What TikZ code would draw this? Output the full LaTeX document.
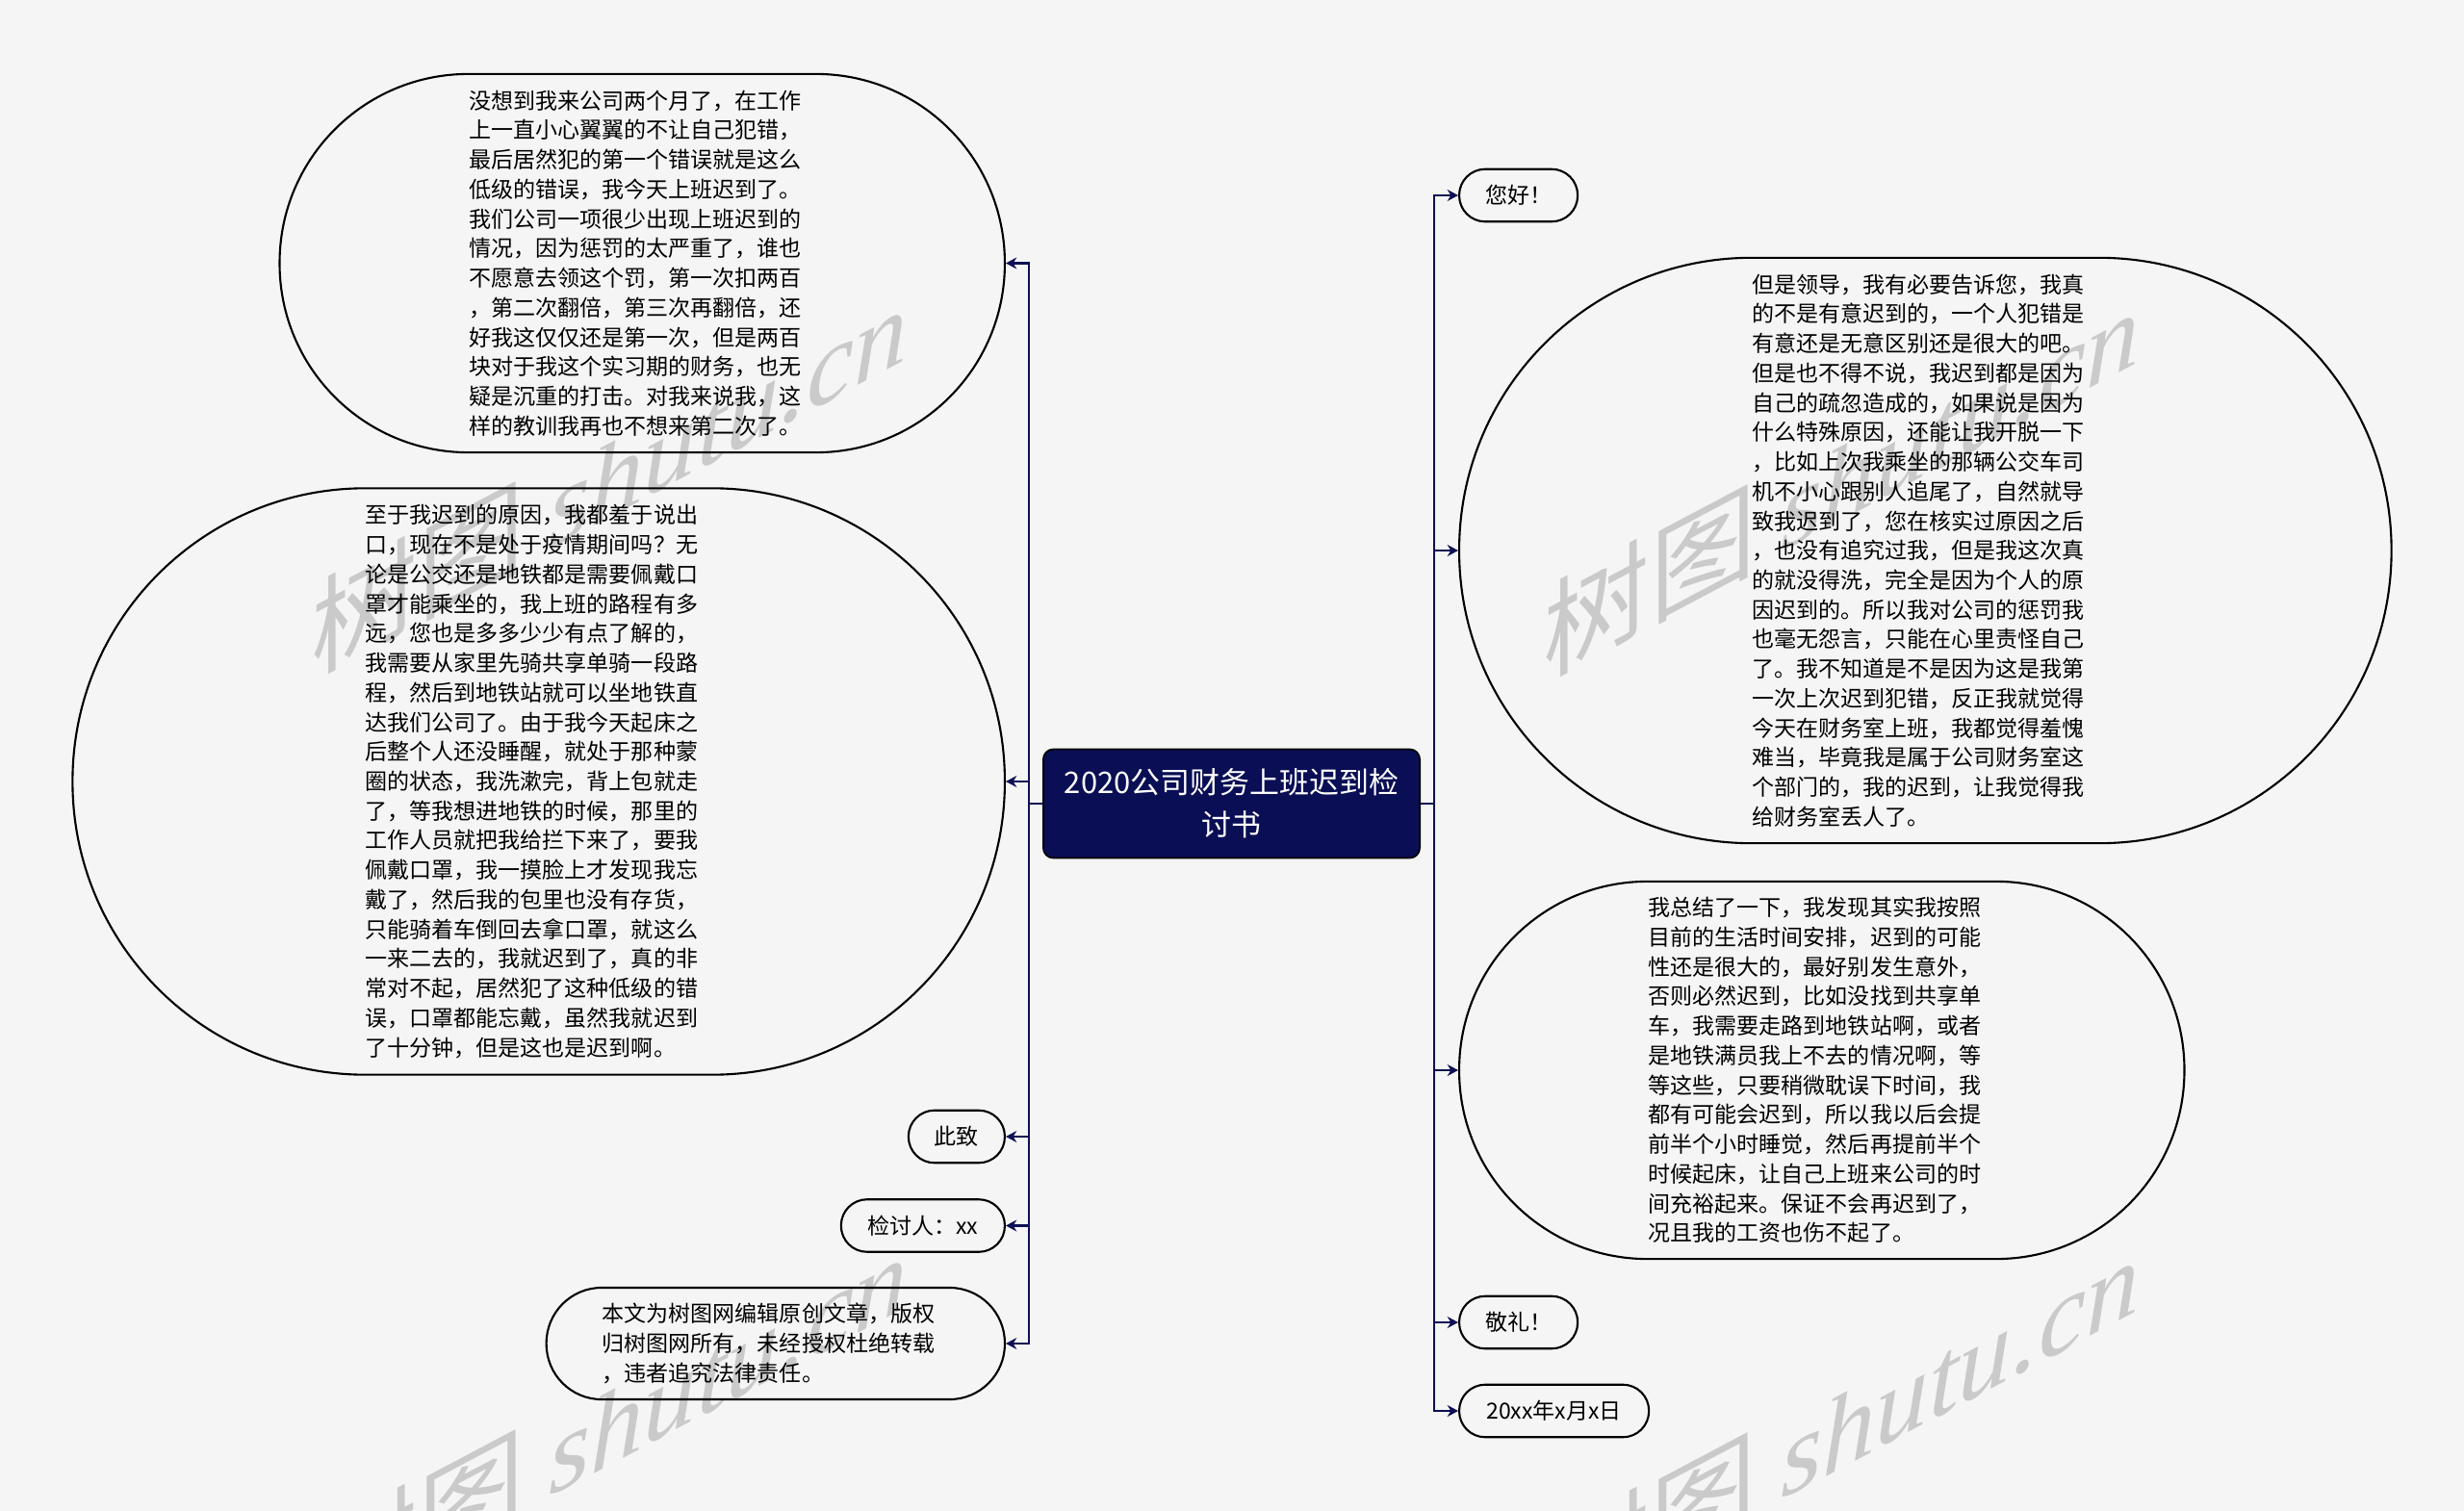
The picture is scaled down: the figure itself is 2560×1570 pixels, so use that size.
\documentclass[tikz,border=0pt]{standalone}
\usepackage{fontspec}
\setmainfont{Noto Sans CJK SC}
\newfontfamily\wmserif{Liberation Serif}
\usepackage{tikz}
\usetikzlibrary{arrows.meta}
\definecolor{linknavy}{RGB}{12,16,84}
\definecolor{titlenavy}{RGB}{10,14,85}
\definecolor{pagegray}{RGB}{245,245,245}
\definecolor{markgray}{RGB}{202,202,202}
\newcommand\bubblesize{\fontsize{6.55pt}{8.74pt}\selectfont}

\begin{document}
\begin{tikzpicture}[x=0.01cm,y=-0.01cm,
    capsule/.style n args={3}{rectangle,draw=black,line width=0.6pt,inner sep=0pt,
      minimum width=#1,minimum height=#2,rounded corners=#3,font=\bubblesize},
    bubble/.style={text width=3.6cm,align=left},
    link/.style={draw=linknavy,line width=0.7pt,-{Stealth[length=3.2pt,width=3.4pt]}},
    watermark/.style={anchor=base east,yslant=0.53,text=markgray,
      font=\fontsize{31.5pt}{31.5pt}\selectfont}]
          \useasboundingbox (0,0) rectangle (2560,1570);
          \clip (0,0) rectangle (2560,1570);
          \fill[pagegray] (0,0) rectangle (2560,1570);
          \foreach \wx/\wy in {955/367,2235/370,955/1352,2235/1355}
            \node[watermark] at (\wx,\wy) {树图 {\wmserif\itshape shutu.cn}};
          % root
          \node[rectangle,rounded corners=3pt,draw=black,line width=0.5pt,fill=titlenavy,
            text=white,minimum width=3.91cm,minimum height=1.13cm,inner sep=0pt,
            text width=3.6cm,align=center,font=\fontsize{8.8pt}{12.5pt}\selectfont]
            (title) at (1279.5,835) {2020公司财务上班迟到检\\讨书};
          % left side
          \node[capsule={7.53cm}{3.93cm}{1.96cm},bubble,anchor=east] (firstlate) at (1045,273.5)
            {没想到我来公司两个月了，在工作\\
             上一直小心翼翼的不让自己犯错，\\
             最后居然犯的第一个错误就是这么\\
             低级的错误，我今天上班迟到了。\\
             我们公司一项很少出现上班迟到的\\
             情况，因为惩罚的太严重了，谁也\\
             不愿意去领这个罚，第一次扣两百\\
             ，第二次翻倍，第三次再翻倍，还\\
             好我这仅仅还是第一次，但是两百\\
             块对于我这个实习期的财务，也无\\
             疑是沉重的打击。对我来说我，这\\
             样的教训我再也不想来第二次了。};
          \node[capsule={9.68cm}{6.09cm}{3.04cm},bubble,anchor=east] (reason) at (1045,812)
            {至于我迟到的原因，我都羞于说出\\
             口，现在不是处于疫情期间吗？无\\
             论是公交还是地铁都是需要佩戴口\\
             罩才能乘坐的，我上班的路程有多\\
             远，您也是多多少少有点了解的，\\
             我需要从家里先骑共享单骑一段路\\
             程，然后到地铁站就可以坐地铁直\\
             达我们公司了。由于我今天起床之\\
             后整个人还没睡醒，就处于那种蒙\\
             圈的状态，我洗漱完，背上包就走\\
             了，等我想进地铁的时候，那里的\\
             工作人员就把我给拦下来了，要我\\
             佩戴口罩，我一摸脸上才发现我忘\\
             戴了，然后我的包里也没有存货，\\
             只能骑着车倒回去拿口罩，就这么\\
             一来二去的，我就迟到了，真的非\\
             常对不起，居然犯了这种低级的错\\
             误，口罩都能忘戴，虽然我就迟到\\
             了十分钟，但是这也是迟到啊。};
          \node[capsule={1.00cm}{0.545cm}{0.27cm},anchor=east] (cizhi) at (1045,1181) {此致};
          \node[capsule={1.70cm}{0.545cm}{0.27cm},anchor=east] (signer) at (1045,1273.5) {检讨人：xx};
          \node[capsule={4.76cm}{1.16cm}{0.575cm},bubble,anchor=east] (notice) at (1045,1396)
            {本文为树图网编辑原创文章，版权\\
             归树图网所有，未经授权杜绝转载\\
             ，违者追究法律责任。};
          % right side
          \node[capsule={1.23cm}{0.545cm}{0.27cm},anchor=west] (hello) at (1515,203) {您好！};
          \node[capsule={9.68cm}{6.08cm}{3.035cm},bubble,anchor=west] (careless) at (1515,572)
            {但是领导，我有必要告诉您，我真\\
             的不是有意迟到的，一个人犯错是\\
             有意还是无意区别还是很大的吧。\\
             但是也不得不说，我迟到都是因为\\
             自己的疏忽造成的，如果说是因为\\
             什么特殊原因，还能让我开脱一下\\
             ，比如上次我乘坐的那辆公交车司\\
             机不小心跟别人追尾了，自然就导\\
             致我迟到了，您在核实过原因之后\\
             ，也没有追究过我，但是我这次真\\
             的就没得洗，完全是因为个人的原\\
             因迟到的。所以我对公司的惩罚我\\
             也毫无怨言，只能在心里责怪自己\\
             了。我不知道是不是因为这是我第\\
             一次上次迟到犯错，反正我就觉得\\
             今天在财务室上班，我都觉得羞愧\\
             难当，毕竟我是属于公司财务室这\\
             个部门的，我的迟到，让我觉得我\\
             给财务室丢人了。};
          \node[capsule={7.53cm}{3.92cm}{1.955cm},bubble,anchor=west] (promise) at (1515,1112)
            {我总结了一下，我发现其实我按照\\
             目前的生活时间安排，迟到的可能\\
             性还是很大的，最好别发生意外，\\
             否则必然迟到，比如没找到共享单\\
             车，我需要走路到地铁站啊，或者\\
             是地铁满员我上不去的情况啊，等\\
             等这些，只要稍微耽误下时间，我\\
             都有可能会迟到，所以我以后会提\\
             前半个小时睡觉，然后再提前半个\\
             时候起床，让自己上班来公司的时\\
             间充裕起来。保证不会再迟到了，\\
             况且我的工资也伤不起了。};
          \node[capsule={1.23cm}{0.545cm}{0.27cm},anchor=west] (jingli) at (1515,1374) {敬礼！};
          \node[capsule={1.97cm}{0.545cm}{0.27cm},anchor=west] (date) at (1515,1466) {20xx年x月x日};
          % connectors
          \foreach \kid in {firstlate,reason,cizhi,signer,notice}
            \draw[link] (title.west) -- ++(-14,0) |- (\kid.east);
          \foreach \kid in {hello,careless,promise,jingli,date}
            \draw[link] (title.east) -- ++(14,0) |- (\kid.west);
        \end{tikzpicture}
\end{document}
